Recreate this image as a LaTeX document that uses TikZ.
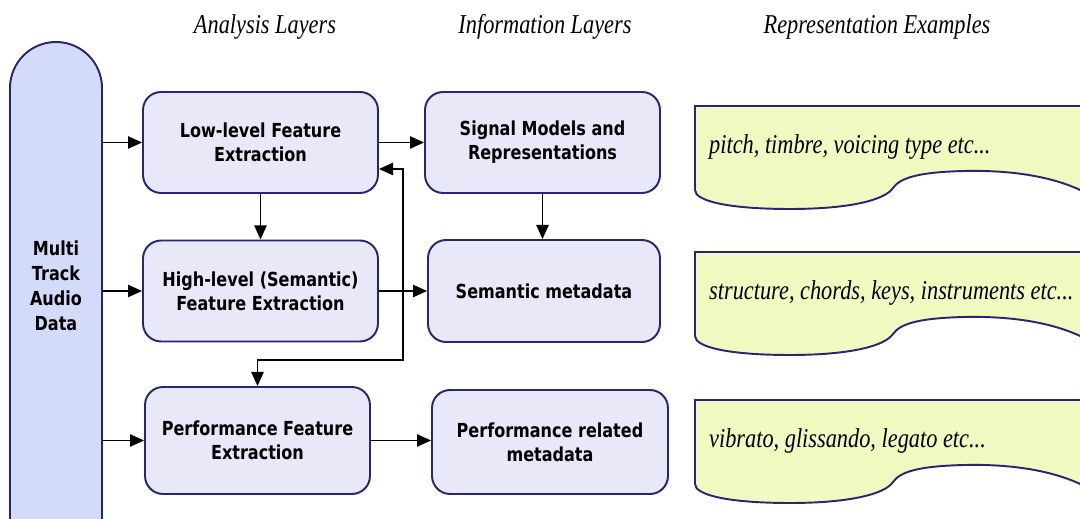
\documentclass[tikz,border=0pt]{standalone}
\usepackage{fontspec}
\setmainfont{Liberation Serif}[FakeStretch=0.82]
\newfontfamily\boxfont{DejaVu Sans}[FakeStretch=0.83]
\usetikzlibrary{arrows.meta,calc}

\definecolor{navyline}{RGB}{38,38,118}
\definecolor{pillfill}{RGB}{212,219,248}
\definecolor{boxfill}{RGB}{232,232,248}
\definecolor{notefill}{RGB}{240,249,192}

\tikzset{
  layerbox/.style={draw=navyline, fill=boxfill, line width=1.1pt,
    rounded corners=0.36cm, align=center,
    minimum width=4.7cm, minimum height=2.02cm,
    font=\boxfont\bfseries\fontsize{11}{13.8}\selectfont},
  heading/.style={font=\itshape\fontsize{15.5}{18}\selectfont},
  notetext/.style={anchor=west, font=\itshape\fontsize{15.5}{18}\selectfont},
  link/.style={line width=0.9pt, -{Triangle[length=8pt,width=7pt]}},
}

\begin{document}
\begin{tikzpicture}[x=0.02cm, y=-0.02cm]

    %% Background
    \useasboundingbox (0,0) rectangle (1080,519);

    % Headings
    \node[heading] (hanalysis) at (265,27) {Analysis Layers};
    \node[heading] (hinfo) at (545,27) {Information Layers};
    \node[heading] (hrepr) at (877,27) {Representation Examples};

    % Audio input
    \draw[draw=navyline, fill=pillfill, line width=1.1pt, rounded corners=0.92cm]
    (10,540) -- (10,42) -- (102,42) -- (102,540);
    \node[minimum width=1.84cm, minimum height=9.96cm, inner sep=0pt, align=center,
      font=\boxfont\bfseries\fontsize{11}{14.2}\selectfont]
    (audio) at (56,286) {Multi\\Track\\Audio\\Data};

    % Analysis layers
    \node[layerbox] (ll) at (260.5,142.5) {Low-level Feature\\Extraction};
    \node[layerbox] (hl) at (260.5,291) {High-level (Semantic)\\Feature Extraction};
    \node[layerbox, minimum width=4.5cm, minimum height=2.14cm]
    (pf) at (257.5,440.5) {Performance Feature\\Extraction};

    % Information layers
    \node[layerbox] (sm) at (542.5,142.5) {Signal Models and\\Representations};
    \node[layerbox, minimum width=4.64cm, minimum height=2.04cm]
    (sem) at (544,291) {Semantic metadata};
    \node[layerbox, minimum width=4.72cm, minimum height=2.08cm]
    (pr) at (550,442) {Performance related\\metadata};

    % Representation examples
    \foreach \y/\txt in {106/{pitch, timbre, voicing type etc...},
                         252/{structure, chords, keys, instruments etc...},
                         400/{vibrato, glissando, legato etc...}}
    {
    \draw[draw=navyline, fill=notefill, line width=1.1pt]
    (695,\y) -- (1095,\y) -- (1095,\y+92)
    .. controls (1060,\y+70) and (1010,\y+64) .. (965,\y+65)
    .. controls (918,\y+66) and (900,\y+72) .. (893,\y+82)
    .. controls (885,\y+94) and (850,\y+103) .. (790,\y+103)
    .. controls (728,\y+103) and (695,\y+95) .. (695,\y+84) -- cycle;
    \node[notetext] (note\y) at (703,\y+41) {\txt};
    }

    % Connectors
    \draw[link] (audio.east |- ll) -- (ll.west);
    \draw[link] (audio.east |- hl) -- (hl.west);
    \draw[link] (audio.east |- pf) -- (pf.west);

    \draw[link] (ll.east) -- (sm.west);
    \draw[link] (hl.east) -- (sem.west);
    \draw[link] (pf.east) -- (pf.east -| pr.west);

    \draw[link] (ll.south) -- (hl.north);
    \draw[link] (sm.south) -- (sm.south |- sem.north);

    %Feedback
    \coordinate (fbtop) at (403,169);
    \coordinate (fbbot) at (403,360);
    \draw[link, {Triangle[length=8pt,width=7pt]}-{Triangle[length=8pt,width=7pt]}]
    (ll.east |- fbtop) -- (fbtop) -- (fbbot) -| (pf.north);

\end{tikzpicture}
\end{document}
